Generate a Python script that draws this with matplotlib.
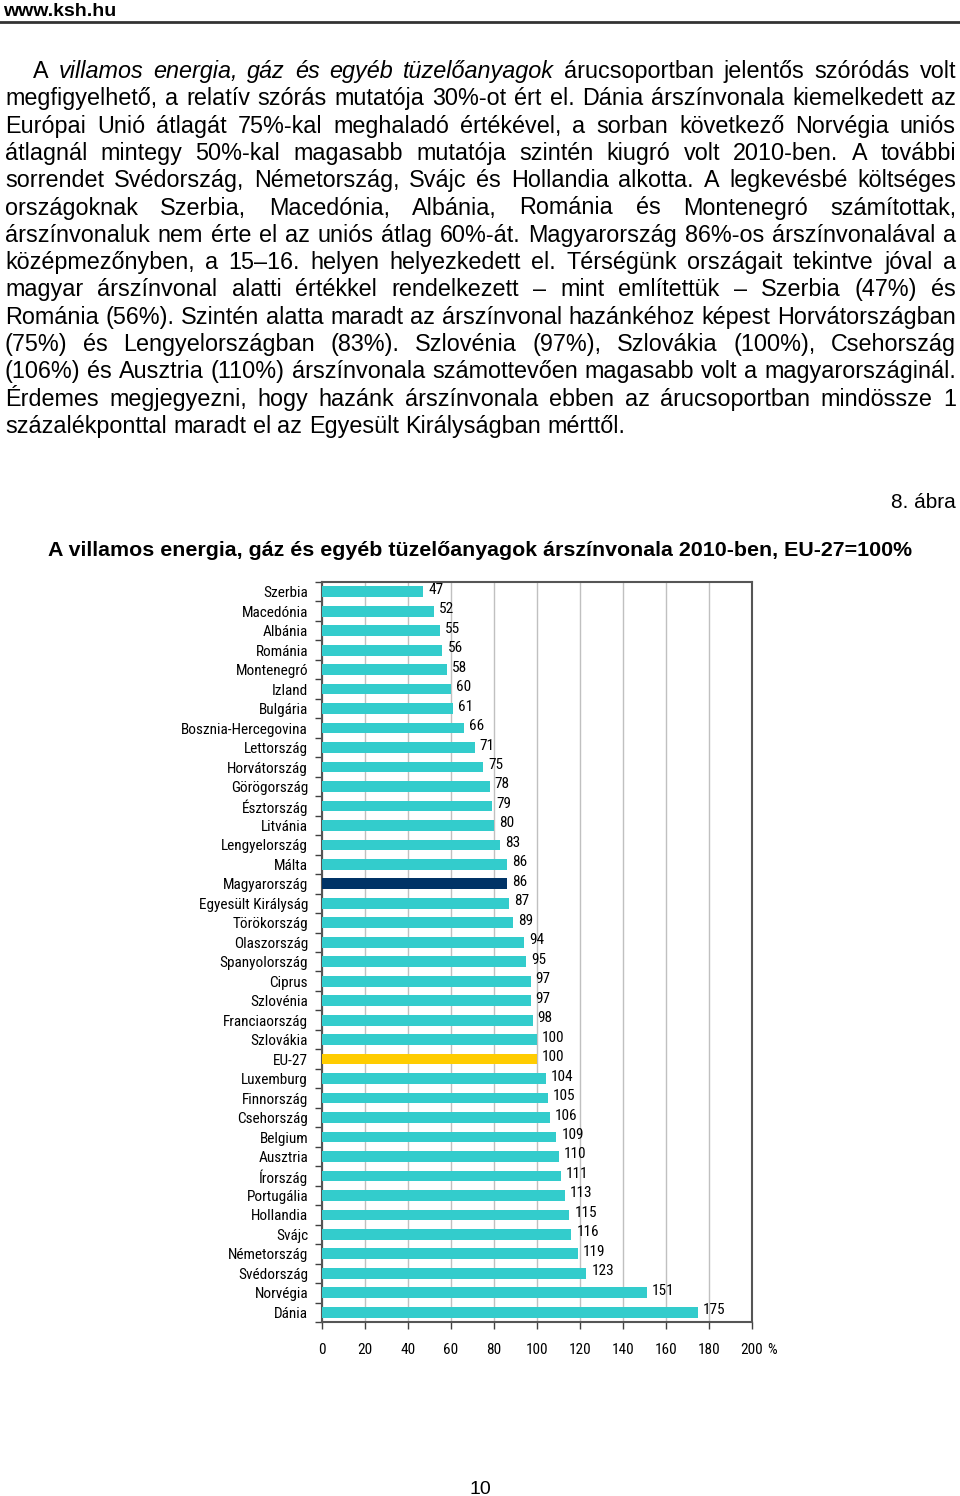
import matplotlib
matplotlib.use("Agg")
import matplotlib.pyplot as plt
from matplotlib.ticker import FixedLocator

# Chart data (top to bottom)
countries = ['Szerbia', 'Macedónia', 'Albánia', 'Románia', 'Montenegró', 'Izland',
             'Bulgária', 'Bosznia-Hercegovina', 'Lettország', 'Horvátország',
             'Görögország', 'Észtország', 'Litvánia', 'Lengyelország', 'Málta',
             'Magyarország', 'Egyesült Királyság', 'Törökország', 'Olaszország',
             'Spanyolország', 'Ciprus', 'Szlovénia', 'Franciaország', 'Szlovákia',
             'EU-27', 'Luxemburg', 'Finnország', 'Csehország', 'Belgium', 'Ausztria',
             'Írország', 'Portugália', 'Hollandia', 'Svájc', 'Németország',
             'Svédország', 'Norvégia', 'Dánia']
values = [47, 52, 55, 56, 58, 60, 61, 66, 71, 75, 78, 79, 80, 83, 86, 86, 87, 89,
          94, 95, 97, 97, 98, 100, 100, 104, 105, 106, 109, 110, 111, 113, 115, 116,
          119, 123, 151, 175]
x_ticks = [0, 20, 40, 60, 80, 100, 120, 140, 160, 180, 200]

# Page text
header = 'www.ksh.hu'
para_lines = [
    'A villamos energia, gáz és egyéb tüzelőanyagok árucsoportban jelentős szóródás volt',
    'megfigyelhető, a relatív szórás mutatója 30%-ot ért el. Dánia árszínvonala kiemelkedett az',
    'Európai Unió átlagát 75%-kal meghaladó értékével, a sorban következő Norvégia uniós',
    'átlagnál mintegy 50%-kal magasabb mutatója szintén kiugró volt 2010-ben. A további',
    'sorrendet Svédország, Németország, Svájc és Hollandia alkotta. A legkevésbé költséges',
    'országoknak Szerbia, Macedónia, Albánia, Románia és Montenegró számítottak,',
    'árszínvonaluk nem érte el az uniós átlag 60%-át. Magyarország 86%-os árszínvonalával a',
    'középmezőnyben, a 15–16. helyen helyezkedett el. Térségünk országait tekintve jóval a',
    'magyar árszínvonal alatti értékkel rendelkezett – mint említettük – Szerbia (47%) és',
    'Románia (56%). Szintén alatta maradt az árszínvonal hazánkéhoz képest Horvátországban',
    '(75%) és Lengyelországban (83%). Szlovénia (97%), Szlovákia (100%), Csehország',
    '(106%) és Ausztria (110%) árszínvonala számottevően magasabb volt a magyarországinál.',
    'Érdemes megjegyezni, hogy hazánk árszínvonala ebben az árucsoportban mindössze 1',
    'százalékponttal maradt el az Egyesült Királyságban mérttől.',
]
italic_words = {(0, 1), (0, 2), (0, 3), (0, 4), (0, 5), (0, 6)}
fig_label = '8. ábra'
title = 'A villamos energia, gáz és egyéb tüzelőanyagok árszínvonala 2010-ben, EU-27=100%'
page_no = '10'

plt.rcParams['font.family'] = ['Liberation Sans', 'DejaVu Sans']
narrow = ['Roboto Condensed', 'Liberation Sans Narrow', 'Liberation Sans']
nfs = 11

W, H = 960, 1496
fig = plt.figure(figsize=(W / 100, H / 100), dpi=100)
renderer = fig.canvas.get_renderer()


def px(x, y):
    return x / W, 1 - y / H


# header
fig.text(*px(3, 16), header, fontsize=14, fontweight='bold', va='baseline')
fig.add_artist(plt.Line2D([0, 1], [1 - 22 / H] * 2, color='#333333', lw=2))

# justified paragraph
fs = 16.8
left, right = 5, 956
for i, line in enumerate(para_lines):
    words = line.split(' ')
    base = 78 + 27.3 * i
    x0 = 33 if i == 0 else left
    arts = []
    widths = []
    for j, w in enumerate(words):
        style = 'italic' if (i, j) in italic_words else 'normal'
        t = fig.text(0, 0, w, fontsize=fs, fontstyle=style, va='baseline')
        widths.append(t.get_window_extent(renderer).width)
        arts.append(t)
    if i == len(para_lines) - 1:
        t1 = fig.text(0, 0, 'a a', fontsize=fs)
        t2 = fig.text(0, 0, 'a', fontsize=fs)
        gap = t1.get_window_extent(renderer).width - 2 * t2.get_window_extent(renderer).width
        t1.remove()
        t2.remove()
    else:
        gap = (right - x0 - sum(widths)) / (len(words) - 1)
    x = x0
    for t, wd in zip(arts, widths):
        t.set_position(px(x, base))
        x += wd + gap

fig.text(*px(956, 508), fig_label, fontsize=15, ha='right', va='baseline')
fig.text(*px(480, 556), title, fontsize=15.4, fontweight='bold', ha='center', va='baseline')
fig.text(*px(480, 1494), page_no, fontsize=14, ha='center', va='baseline')

# bar chart
ax = fig.add_axes([322 / W, 1 - 1322 / H, (752 - 322) / W, (1322 - 582) / H])
colors = []
for c in countries:
    if c == 'Magyarország':
        colors.append('#003366')
    elif c == 'EU-27':
        colors.append('#FFCC00')
    else:
        colors.append('#33CCCC')
pos = list(range(len(countries)))
ax.barh(pos, values, height=0.55, color=colors, zorder=3)
for p, v in zip(pos, values):
    ax.annotate(str(v), xy=(v, p), xytext=(5, 2), textcoords='offset pixels',
                ha='left', va='center', fontsize=nfs, family=narrow, zorder=4)

ax.set_xlim(0, 200)
ax.set_ylim(len(countries) - 0.5, -0.5)
ax.set_xticks(x_ticks)
ax.set_xticklabels([str(t) for t in x_ticks], family=narrow, fontsize=nfs)
ax.annotate('%', xy=(200, 0), xycoords=('data', 'axes fraction'), xytext=(15, -28),
            textcoords='offset pixels', ha='left', va='center', fontsize=nfs,
            family=narrow)
ax.set_yticks(pos)
ax.set_yticklabels(countries, family=narrow, fontsize=nfs)
ax.yaxis.set_minor_locator(FixedLocator([p + 0.5 for p in range(-1, len(countries))]))
ax.tick_params(axis='y', which='major', length=0, pad=10)
ax.tick_params(axis='y', which='minor', length=5, width=1, color='#404040', direction='out')
ax.tick_params(axis='x', length=5, width=1, color='#404040', direction='out', pad=10)
ax.xaxis.grid(True, color='#C0C0C0', lw=1, zorder=0)
for s in ax.spines.values():
    s.set_color('#555555')
    s.set_linewidth(1.5)

fig.savefig('out.png', dpi=100)
